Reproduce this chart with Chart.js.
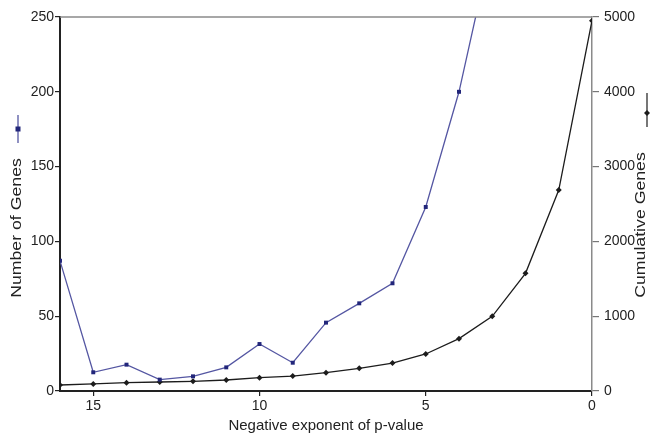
<!DOCTYPE html>
<html>
<head>
<meta charset="utf-8">
<script src="https://cdn.jsdelivr.net/npm/chart.js@4/dist/chart.umd.min.js"></script>
<style>
html,body{margin:0;padding:0;background:#fff;}
#wrap{width:655px;height:435px;position:relative;}
</style>
</head>
<body>
<div id="wrap"><canvas id="c" width="655" height="435"></canvas></div>
<script>
// Data
const exponents = [16, 15, 14, 13, 12, 11, 10, 9, 8, 7, 6, 5, 4, 3, 2, 1, 0];
const numberOfGenes = [87, 12.5, 17.6, 7.6, 9.8, 15.8, 31.4, 18.9, 45.7, 58.6, 72, 123, 200, 300, 575, 1115, 2260];
const cumulativeGenes = [80, 95, 111, 120, 129, 147, 178, 200, 245, 303, 374, 495, 700, 998, 1573, 2687, 4950];
const xTickValues = [15, 10, 5, 0];
const leftTickValues = [0, 50, 100, 150, 200, 250];
const rightTickValues = [0, 1000, 2000, 3000, 4000, 5000];
const xTitle = 'Negative exponent of p-value';
const leftTitle = 'Number of Genes';
const rightTitle = 'Cumulative Genes';

const FONT = '"Liberation Sans", Arial, sans-serif';
const BLUE_LINE = '#5456a2';
const BLUE_PT = '#22267a';
const BLACK = '#1c1c1c';

const titlePlugin = {
  id: 'titles',
  afterDraw(chart) {
    const ctx = chart.ctx;
    const a = chart.chartArea;
    // top frame line
    ctx.save();
    ctx.strokeStyle = '#8a8a8a';
    ctx.lineWidth = 1.5;
    ctx.beginPath();
    ctx.moveTo(a.left, a.top);
    ctx.lineTo(a.right, a.top);
    ctx.stroke();
    ctx.restore();

    const midY = (a.top + a.bottom) / 2;
    // left title
    ctx.save();
    ctx.translate(17, midY + 24);
    ctx.rotate(-Math.PI / 2);
    ctx.scale(1.18, 1);
    ctx.font = '15px ' + FONT;
    ctx.fillStyle = '#222';
    ctx.textAlign = 'center';
    ctx.textBaseline = 'middle';
    ctx.fillText(leftTitle, 0, 0);
    ctx.restore();
    // left legend marker
    ctx.save();
    ctx.strokeStyle = BLUE_LINE;
    ctx.lineWidth = 1.3;
    ctx.beginPath();
    ctx.moveTo(18, midY - 89);
    ctx.lineTo(18, midY - 61);
    ctx.stroke();
    ctx.fillStyle = BLUE_PT;
    ctx.fillRect(15.5, midY - 77.5, 5, 5);
    ctx.restore();

    // right title
    ctx.save();
    ctx.translate(641, midY + 21);
    ctx.rotate(-Math.PI / 2);
    ctx.scale(1.18, 1);
    ctx.font = '15px ' + FONT;
    ctx.fillStyle = '#222';
    ctx.textAlign = 'center';
    ctx.textBaseline = 'middle';
    ctx.fillText(rightTitle, 0, 0);
    ctx.restore();
    // right legend marker
    ctx.save();
    ctx.strokeStyle = BLACK;
    ctx.lineWidth = 1.2;
    ctx.beginPath();
    ctx.moveTo(647, midY - 111);
    ctx.lineTo(647, midY - 77);
    ctx.stroke();
    ctx.fillStyle = BLACK;
    ctx.beginPath();
    const cy = midY - 91;
    ctx.moveTo(647, cy - 3); ctx.lineTo(650, cy); ctx.lineTo(647, cy + 3); ctx.lineTo(644, cy);
    ctx.closePath();
    ctx.fill();
    ctx.restore();
  }
};

new Chart(document.getElementById('c'), {
  type: 'line',
  data: {
    datasets: [
      {
        label: leftTitle,
        data: exponents.map((x, i) => ({x, y: numberOfGenes[i]})),
        yAxisID: 'y',
        borderColor: BLUE_LINE,
        borderWidth: 1.3,
        pointStyle: 'rect',
        pointRadius: 2.8,
        pointBackgroundColor: BLUE_PT,
        pointBorderColor: BLUE_PT,
        pointBorderWidth: 0,
        tension: 0,
        fill: false
      },
      {
        label: rightTitle,
        data: exponents.map((x, i) => ({x, y: cumulativeGenes[i]})),
        yAxisID: 'y2',
        borderColor: BLACK,
        borderWidth: 1.3,
        pointStyle: 'rectRot',
        pointRadius: 3,
        pointBackgroundColor: BLACK,
        pointBorderColor: BLACK,
        pointBorderWidth: 0,
        tension: 0,
        fill: false
      }
    ]
  },
  options: {
    responsive: false,
    animation: false,
    devicePixelRatio: 1,
    layout: { padding: { top: 17, left: 0, right: 0, bottom: 0 } },
    plugins: { legend: { display: false }, tooltip: { enabled: false } },
    scales: {
      x: {
        type: 'linear',
        min: 0, max: 16,
        reverse: true,
        afterBuildTicks: s => { s.ticks = xTickValues.map(v => ({value: v})); },
        afterFit: s => { s.height = 44; },
        grid: { drawOnChartArea: false, drawTicks: true, tickLength: 5, color: '#222', lineWidth: 1.2 },
        border: { display: true, color: '#222', width: 2 },
        ticks: { font: { family: FONT, size: 14 }, color: '#222', padding: 2, maxRotation: 0, callback: v => String(v) },
        title: { display: true, text: xTitle, font: { family: FONT, size: 15 }, color: '#222', padding: { top: 0, bottom: 0 } }
      },
      y: {
        type: 'linear',
        position: 'left',
        min: 0, max: 250,
        afterBuildTicks: s => { s.ticks = leftTickValues.map(v => ({value: v})); },
        afterFit: s => { s.width = 60; },
        grid: { drawOnChartArea: false, drawTicks: true, tickLength: 5, color: '#222', lineWidth: 1.2 },
        border: { display: true, color: '#222', width: 2 },
        ticks: { font: { family: FONT, size: 14 }, color: '#222', padding: 1, callback: v => String(v) }
      },
      y2: {
        type: 'linear',
        position: 'right',
        min: 0, max: 5000,
        afterBuildTicks: s => { s.ticks = rightTickValues.map(v => ({value: v})); },
        afterFit: s => { s.width = 63; },
        grid: { drawOnChartArea: false, drawTicks: true, tickLength: 7, color: '#777', lineWidth: 1.2 },
        border: { display: true, color: '#8a8a8a', width: 1.5 },
        ticks: { font: { family: FONT, size: 14 }, color: '#222', padding: 5, callback: v => String(v) }
      }
    }
  },
  plugins: [titlePlugin]
});
</script>
</body>
</html>
